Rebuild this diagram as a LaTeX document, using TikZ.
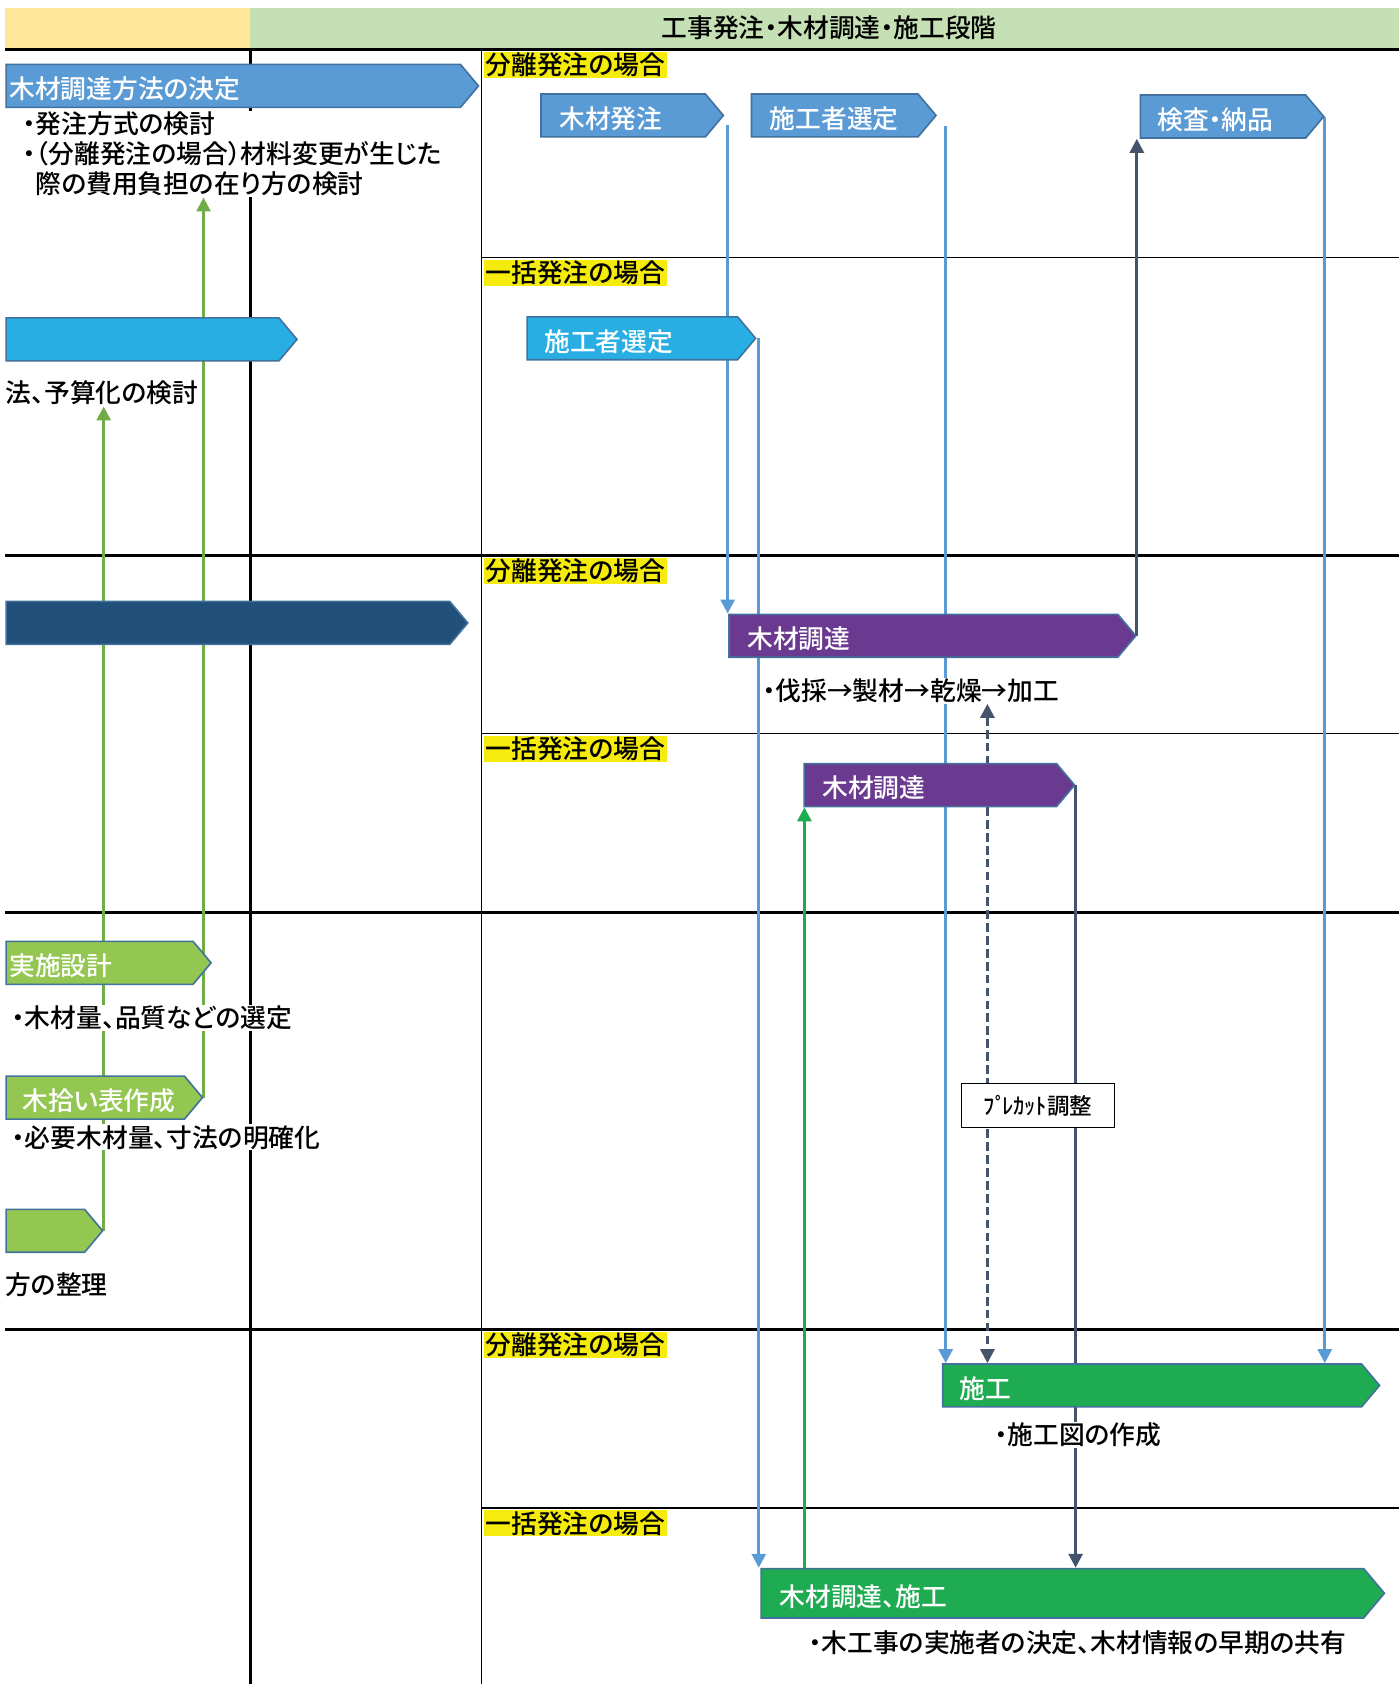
\documentclass[tikz,border=0pt]{standalone}
\usepackage{fontspec}
\setmainfont{Noto Sans CJK JP}[UprightFont=* Medium, RawFeature=+palt]
\usepackage{tikz}
\usetikzlibrary{shapes.symbols, arrows.meta}

\definecolor{hdrL}{HTML}{FFE699}
\definecolor{hdrR}{HTML}{C5E0B4}
\definecolor{tagY}{HTML}{F5EB0C}
\definecolor{pblue}{HTML}{5B9BD5}
\definecolor{pcyan}{HTML}{28AEE3}
\definecolor{pnavy}{HTML}{21507A}
\definecolor{ppurple}{HTML}{6A3A90}
\definecolor{plgreen}{HTML}{93C752}
\definecolor{pdgreen}{HTML}{1EAB52}
\definecolor{pedge}{HTML}{41719C}
\definecolor{slate}{HTML}{44546A}
\definecolor{lgline}{HTML}{70AD47}

\pgfdeclarelayer{back}
\pgfdeclarelayer{mid}
\pgfsetlayers{back,mid,main}

\tikzset{
  pent/.style={signal, signal to=east, signal pointer angle=100, minimum height=40pt,
    draw=pedge, line width=1.5pt, text=white, align=left, inner ysep=0pt, anchor=west,
    text height=27pt, text depth=3pt},
  note/.style={fill=white, inner sep=1pt, anchor=west, align=left},
  tag/.style={fill=tagY, inner xsep=2pt, inner ysep=1pt, anchor=north west},
  thickrule/.style={line width=2.6pt},
  thinrule/.style={line width=1.2pt},
  tip/.style={-{Triangle[width=13pt,length=13pt]}},
  bline/.style={draw=pblue, line width=2.8pt, tip},
  sline/.style={draw=slate, line width=2.8pt, tip},
  gline/.style={draw=pdgreen, line width=2.8pt, tip},
  lgarrow/.style={draw=lgline, line width=2.8pt, tip}
}

\begin{document}
\begin{tikzpicture}[x=1pt, y=-1pt, font=\fontsize{24}{28}\selectfont]
\useasboundingbox (0,0) rectangle (1303,1568);

% Kopfzeile und Raster
\begin{pgfonlayer}{back}
\fill[hdrL] (5,7) rectangle (233,46);
\fill[hdrR] (233,7) rectangle (1303,46);
\draw[thickrule] (5,46) -- (1303,46);
\draw[thickrule] (5,517) -- (1303,517);
\draw[thickrule] (5,850) -- (1303,850);
\draw[thickrule] (5,1238) -- (1303,1238);
\draw[thinrule] (448,240) -- (1303,240);
\draw[thinrule] (448,683) -- (1303,683);
\draw[thinrule] (448,1404) -- (1303,1404);
\draw[thickrule] (233,46) -- (233,1568);
\draw[thinrule] (448,46) -- (448,1568);
\end{pgfonlayer}

\node (title) at (772,26) {工事発注・木材調達・施工段階};

% Fallkennzeichen
\node[tag] (bunriA) at (450,48) {分離発注の場合};
\node[tag] (ikkatsuA) at (450,242) {一括発注の場合};
\node[tag] (bunriB) at (450,519) {分離発注の場合};
\node[tag] (ikkatsuB) at (450,685) {一括発注の場合};
\node[tag] (bunriC) at (450,1240) {分離発注の場合};
\node[tag] (ikkatsuC) at (450,1406) {一括発注の場合};

% Pfeile links
\node[pent, fill=pblue, inner xsep=3pt, text width=417pt] (kettei) at (5,80) {木材調達方法の決定};
\node[pent, fill=pcyan, inner xsep=3pt, text width=248pt] (yosanbar) at (5,316) {};
\node[pent, fill=pnavy, inner xsep=3pt, text width=407pt] (navybar) at (5,580) {};
\node[pent, fill=plgreen, inner xsep=3pt, text width=168pt] (jissi) at (5,896.5) {実施設計};
\node[pent, fill=plgreen, inner xsep=15pt, text width=136pt] (kihiroi) at (5,1022) {木拾い表作成};
\node[pent, fill=plgreen, inner xsep=3pt, text width=67pt] (seiribar) at (5,1146) {};

\node[note, anchor=north west] (kentou) at (20,103) {・発注方式の検討\\・（分離発注の場合）材料変更が生じた\\\phantom{・}際の費用負担の在り方の検討};
\node[note] (yosan) at (4,366) {法、予算化の検討};
\node[note] (hinshitsu) at (10,948) {・木材量、品質などの選定};
\node[note] (meikaku) at (10,1059) {・必要木材量、寸法の明確化};
\node[note] (seiri) at (4,1196) {方の整理};

% Pfeile rechts
\node[pent, fill=pblue, inner xsep=17pt, text width=119pt] (hachu) at (503,107.5) {木材発注};
\node[pent, fill=pblue, inner xsep=17pt, text width=121pt] (sentei) at (699,107.5) {施工者選定};
\node[pent, fill=pblue, inner xsep=16pt, text width=122pt] (kensa) at (1061,108.5) {検査・納品};
\node[pent, fill=pcyan, inner xsep=16pt, text width=164pt] (senteiB) at (490,315) {施工者選定};
\node[pent, fill=ppurple, inner xsep=17pt, text width=328pt] (chotatsuA) at (678,592) {木材調達};
\node[pent, fill=ppurple, inner xsep=17pt, text width=201pt] (chotatsuB) at (748,731) {木材調達};
\node[pent, fill=pdgreen, inner xsep=16pt, text width=358pt] (sekou) at (877,1290) {施工};
\node[pent, fill=pdgreen, inner xsep=17pt, text width=527pt, minimum height=46pt] (sekouB) at (708,1483.5) {木材調達、施工};

\node[note] (koutei) at (709,643) {・伐採→製材→乾燥→加工};
\node[note] (sekouzu) at (925,1336) {・施工図の作成};
\node[note] (kyouyu) at (752,1530) {・木工事の実施者の決定、木材情報の早期の共有};
\node[draw, line width=1.2pt, fill=white, minimum width=143pt, minimum height=41pt,
  font=\fontsize{21}{24}\selectfont] (precut) at (966.5,1029.5) {ﾌﾟ\kern-4pt ﾚｶｯﾄ調整};

% Verbindungen
\begin{pgfonlayer}{mid}
\draw[bline, shorten <=9pt] ([xshift=3pt]hachu.east) -- ([xshift=3pt]hachu.east |- chotatsuA.north);
\draw[bline] ([xshift=2pt]senteiB.east) -- ([xshift=2pt]senteiB.east |- sekouB.north);
\draw[bline, shorten <=10pt] ([xshift=8pt]sentei.east) -- ([xshift=8pt]sentei.east |- sekou.north);
\draw[bline] (kensa.east) -- (kensa.east |- sekou.north);
\draw[sline] (chotatsuA.east) -- (chotatsuA.east |- kensa.south);
\draw[sline, dash pattern=on 8pt off 4pt, {Triangle[width=13pt,length=13pt]}-{Triangle[width=13pt,length=13pt]}]
  ([xshift=25pt]precut.west |- koutei.south) -- ([xshift=25pt]precut.west |- sekou.north);
\draw[sline] (chotatsuB.east) -- (chotatsuB.east |- sekouB.north);
\draw[gline] ([xshift=1pt]chotatsuB.west |- sekouB.north) -- ([xshift=1pt]chotatsuB.west |- chotatsuB.south);
\draw[lgarrow] (seiribar.east) -- (seiribar.east |- yosan.south);
\draw[lgarrow] (kihiroi.east) -- (kihiroi.east |- kentou.south);
\end{pgfonlayer}
\end{tikzpicture}
\end{document}
